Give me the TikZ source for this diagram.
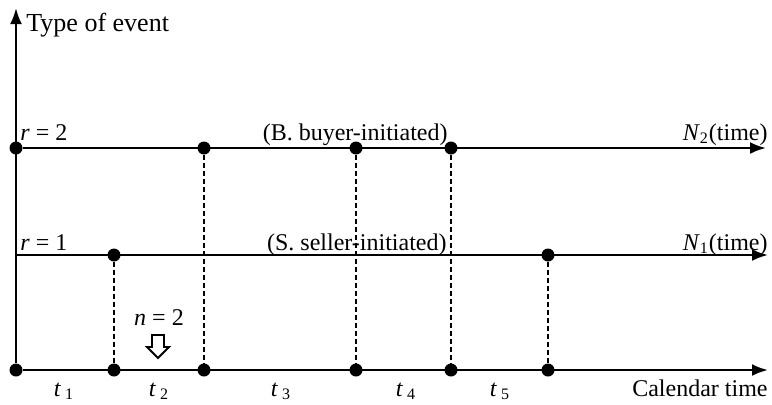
\documentclass[tikz,border=0pt]{standalone}
\usepackage{fontspec}
\setmainfont{Liberation Serif}
\usetikzlibrary{arrows.meta}

\begin{document}
\begin{tikzpicture}[x=0.5pt, y=-0.5pt,
    event/.style={circle, fill=black, inner sep=0pt, minimum size=6.5pt},
    axis/.style={draw, -{Latex[length=8pt, width=6pt]}, line width=1.2pt},
    drop/.style={draw, line width=0.7pt, dash pattern=on 2.5pt off 1.5pt},
    lbl/.style={font=\fontsize{12}{14}\selectfont, inner sep=0pt}
]
    \useasboundingbox (0,0) rectangle (772,404);

    % events on the calendar time axis
    \node [event] (b0) at (16,370) {};
    \node [event] (b1) at (114,370) {};
    \node [event] (b2) at (204,370) {};
    \node [event] (b3) at (356,370) {};
    \node [event] (b4) at (451,370) {};
    \node [event] (b5) at (548,370) {};

    % r = 2, buyer-initiated
    \node [event] (s0) at (16,148) {};
    \node [event] (s1) at (204,148) {};
    \node [event] (s2) at (356,148) {};
    \node [event] (s3) at (451,148) {};

    % r = 1, seller-initiated
    \coordinate (m0) at (16,255);
    \node [event] (m1) at (114,255) {};
    \node [event] (m2) at (548,255) {};

    \coordinate (ytop) at (16,8);
    \coordinate (tend) at (768,370);
    \coordinate (n2end) at (766,148);
    \coordinate (n1end) at (768,255);

    \draw [axis] (b0) -- (ytop);
    \draw [axis] (b0) -- (tend);
    \draw [axis] (s0) -- (n2end);
    \draw [axis] (m0) -- (n1end);

    \draw [drop] (s1) -- (b2);
    \draw [drop] (s2) -- (b3);
    \draw [drop] (s3) -- (b4);
    \draw [drop] (m1) -- (b1);
    \draw [drop] (m2) -- (b5);

    \node [lbl, font=\fontsize{13}{15}\selectfont, anchor=base west] (ylab) at (26,31) {Type of event};
    \node [lbl, anchor=base west] (r2) at (20,140) {\textit{r} = 2};
    \node [lbl, anchor=base east] (buy) at (448,140) {(B. buyer-initiated)};
    \node [lbl, anchor=base east] (n2lab) at (768,140) {\textit{N}\textsubscript{2}(time)};
    \node [lbl, anchor=base west] (r1) at (20,250) {\textit{r} = 1};
    \node [lbl, anchor=base east] (sell) at (447,250) {(S. seller-initiated)};
    \node [lbl, anchor=base east] (n1lab) at (768,250) {\textit{N}\textsubscript{1}(time)};

    \node [lbl, anchor=base] (nlab) at (159,325) {\textit{n} = 2};
    \draw [line width=0.9pt] (152,335) -- (164,335) -- (164,347) -- (169,347)
        -- (158,358) -- (147,347) -- (152,347) -- cycle;

    \node [lbl, anchor=base] (t1) at (64,396) {\textit{t}\,\textsubscript{1}};
    \node [lbl, anchor=base] (t2) at (159,396) {\textit{t}\,\textsubscript{2}};
    \node [lbl, anchor=base] (t3) at (281,396) {\textit{t}\,\textsubscript{3}};
    \node [lbl, anchor=base] (t4) at (406,396) {\textit{t}\,\textsubscript{4}};
    \node [lbl, anchor=base] (t5) at (500,396) {\textit{t}\,\textsubscript{5}};
    \node [lbl, anchor=base east] (cal) at (768,396) {Calendar time};
\end{tikzpicture}
\end{document}
